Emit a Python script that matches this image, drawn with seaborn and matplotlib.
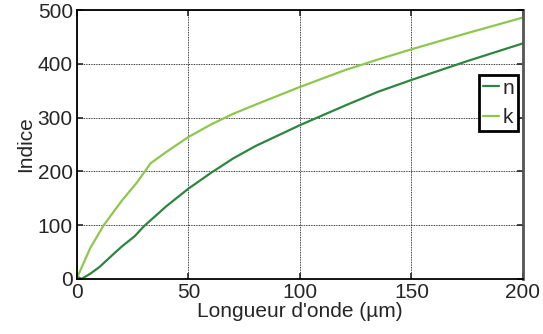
import matplotlib
matplotlib.use("Agg")
import matplotlib.pyplot as plt
import seaborn as sns
import pandas as pd

# Wavelength (µm) and optical index components
x_n = [0, 2, 6, 10, 16, 20, 26, 30, 40, 50, 60, 70, 80, 100, 120, 135, 150, 175, 200]
n_vals = [5, 0, 10, 22, 45, 60, 80, 98, 135, 168, 197, 224, 247, 286, 322, 348, 370, 405, 438]

x_k = [0, 3, 6, 12, 20, 27, 33, 40, 50, 60, 70, 80, 100, 120, 135, 150, 175, 200]
k_vals = [2, 30, 58, 100, 145, 180, 215, 236, 264, 287, 307, 324, 357, 388, 408, 427, 457, 486]

df = pd.concat([
    pd.DataFrame({"x": x_n, "y": n_vals, "serie": "n"}),
    pd.DataFrame({"x": x_k, "y": k_vals, "serie": "k"}),
], ignore_index=True)

sns.set_style("white")
plt.rcParams["font.family"] = ["Liberation Sans", "DejaVu Sans"]

fig = plt.figure(figsize=(5.43, 3.34), dpi=100)
ax = fig.add_axes([0.1418, 0.1647, 0.8212, 0.8053])

sns.lineplot(data=df, x="x", y="y", hue="serie", hue_order=["n", "k"],
             palette={"n": "#2e8540", "k": "#8cc84b"}, linewidth=1.6,
             sort=False, ax=ax)

ax.set_xlim(0, 200)
ax.set_ylim(0, 500)
ax.set_xticks([0, 50, 100, 150, 200])
ax.set_yticks([0, 100, 200, 300, 400, 500])
ax.grid(True, color="black", linestyle=(0, (1, 1)), linewidth=0.6)
ax.tick_params(direction="in", length=4, width=1.2, labelsize=15,
               top=True, right=True, bottom=True, left=True, pad=3)
for side in ["left", "bottom", "top"]:
    ax.spines[side].set_color("black")
    ax.spines[side].set_linewidth(1.3)
ax.spines["right"].set_color("#555555")
ax.spines["right"].set_linewidth(2)

ax.set_xlabel("Longueur d'onde (µm)", fontsize=15, labelpad=0)
ax.set_ylabel("Indice", fontsize=15, labelpad=2)

leg = ax.legend(loc="upper right", bbox_to_anchor=(0.99, 0.76), fontsize=15,
                frameon=True, fancybox=False, handlelength=0.8,
                handletextpad=0.15, borderpad=0.2, labelspacing=0.5,
                borderaxespad=0)
leg.get_frame().set_edgecolor("black")
leg.get_frame().set_linewidth(2)
leg.get_frame().set_alpha(1)

fig.savefig("out.png", dpi=100)
